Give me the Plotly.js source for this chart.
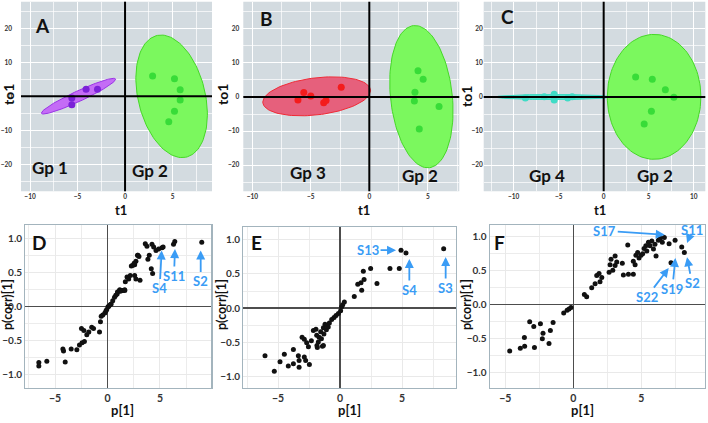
<!DOCTYPE html>
<html><head><meta charset="utf-8">
<script src="https://cdn.plot.ly/plotly-3.0.1.min.js"></script>
<style>html,body{margin:0;padding:0;background:#fff}#chart{width:708px;height:423px}</style>
</head><body><div id="chart"></div>
<script>
// ---------- Score plots (top row) ----------
const aGp1X = [-5.6, -5.6, -4.1, -2.9];
const aGp1Y = [-0.5, -2.5, 2.1, 2.1];
const aGp2X = [2.9, 5.2, 5.8, 5.8, 5.2, 4.6];
const aGp2Y = [6.0, 5.2, 1.9, -1.1, -4.4, -7.5];
const bGp3X = [-6.1, -5.6, -5.0, -3.9, -3.7, -2.4];
const bGp3Y = [-0.9, 1.3, 0.3, -1.7, -1.0, 2.9];
const bGp2X = [4.16, 4.6, 3.9, 3.85, 5.96, 4.27];
const bGp2Y = [7.7, 5.2, 1.4, -1.2, -2.8, -9.4];
const cGp4X = [-8.7, -6.6, -5.5, -5.5, -4.0, -3.5];
const cGp4Y = [-0.3, 0.1, 0.8, -0.9, -0.3, 0.1];
const cGp2X = [3.55, 5.4, 6.85, 7.8, 5.3, 4.5];
const cGp2Y = [5.9, 5.2, 2.1, -0.1, -4.2, -7.9];
// confidence ellipses: [cx, cy, ax, ay, bx, by]
const ellA1 = [-4.9, 0.05, 3.9, 5.05, -0.22, 1.4];
const ellA2 = [4.9, 0.0, 3.6, 0, -1.1, 18.0];
const ellB3 = [-4.5, 0.2, 4.6, 1.9, -0.18, 5.4];
const ellB2 = [4.45, 0.1, 2.65, 0, -0.55, 20.9];
const ellC4 = [-5.65, 0, 6.35, 0, 0, 0.75];
const ellC2 = [5.6, 0.05, 5.2, 0, 0, 18.35];

// ---------- S-plots (bottom row) ----------
const dX = [-6.54,-6.54,-5.78,-4.19,-4.25,-4.03,-3.46,-2.92,-2.67,-2.42,-2.2,-2.48,-2.25,-1.97,-1.78,-1.5,-1.33,-0.76,-0.67,-0.6,-0.45,-0.25,-0.15,-0.07,0.05,0.13,0.25,0.35,0.5,0.67,0.79,0.92,1.15,1.17,1.4,1.65,0.95,
  1.45,1.22,1.64,1.86,2.02,2.17,1.7,2.59,2.71,2.27,2.59,2.71,2.9,3.1,2.38,2.54,2.86,3.0,3.6,3.76,3.85,3.98,4.17,4.3,4.24,4.4,4.62,4.87,5.19,5.3,6.29,6.41,8.98];
const dY = [-0.88,-0.83,-0.81,-0.66,-0.63,-0.82,-0.63,-0.64,-0.57,-0.54,-0.52,-0.33,-0.36,-0.42,-0.38,-0.31,-0.33,-0.38,-0.23,-0.15,-0.13,-0.1,-0.07,-0.05,-0.01,0.0,0.02,0.03,0.08,0.13,0.16,0.18,0.23,0.24,0.23,0.23,0.21,
  0.23,0.22,0.24,0.43,0.40,0.45,0.36,0.45,0.40,0.59,0.61,0.66,0.75,0.38,0.6,0.63,0.75,0.73,0.92,0.88,0.69,0.75,0.55,0.48,0.91,0.87,0.82,0.84,0.86,0.87,0.91,0.95,0.94];
const eX = [-6.05,-5.3,-4.84,-4.49,-4.17,-3.76,-3.76,-3.36,-3.3,-3.3,-2.88,-2.77,-2.47,-3.06,-2.88,-2.69,-2.55,-2.31,-2.15,-1.94,-1.88,-1.83,-1.42,-1.69,-1.56,-1.34,-1.21,-1.02,-0.86,-0.67,-0.48,-0.32,-0.13,0.05,0.13,0.22,0.35,-1.75,-1.5,-1.3,-1.1,-0.95,-1.86,-1.34,
  1.15,1.43,1.69,1.75,1.88,1.94,2.47,2.98,4.03,4.78,4.92,5.32,8.36];
const eY = [-0.7,-0.93,-0.79,-0.68,-0.85,-0.61,-0.82,-0.7,-0.87,-0.77,-0.72,-0.77,-0.83,-0.43,-0.46,-0.51,-0.57,-0.48,-0.33,-0.31,-0.4,-0.58,-0.56,-0.43,-0.35,-0.29,-0.24,-0.26,-0.22,-0.17,-0.14,-0.11,-0.08,-0.04,0.02,0.05,0.09,-0.5,-0.45,-0.38,-0.32,-0.28,-0.55,-0.55,
  0.17,0.35,0.37,0.26,0.54,0.42,0.58,0.36,0.58,0.58,0.85,0.81,0.87];
const fX = [-4.68,-3.9,-3.58,-3.6,-3.21,-2.91,-2.86,-2.42,-2.23,-2.28,-1.79,-1.69,-1.49,-0.71,-0.46,-0.32,-0.17,
  0.81,0.98,1.35,1.6,1.72,1.89,1.96,2.09,2.63,2.7,2.77,2.9,3.07,3.07,3.19,3.6,3.68,4.0,4.05,4.41,4.41,4.54,4.6,4.73,4.83,4.98,5.1,5.2,5.33,5.4,5.52,5.64,5.77,6.0,6.08,5.89,6.25,6.39,6.54,6.69,7.04,7.18,7.48,7.97,8.16];
const fY = [-0.68,-0.64,-0.61,-0.48,-0.25,-0.32,-0.63,-0.28,-0.42,-0.5,-0.57,-0.38,-0.26,-0.12,-0.08,-0.06,-0.04,
  0.15,0.12,0.25,0.31,0.43,0.46,0.34,0.40,0.48,0.59,0.67,0.51,0.72,0.58,0.63,0.61,0.44,0.88,0.45,0.45,0.64,0.59,0.73,0.77,0.69,0.73,0.75,0.83,0.87,0.79,0.92,0.87,0.94,0.89,0.72,0.82,0.95,0.98,0.92,0.99,0.9,0.62,0.95,0.85,0.77];

// labelled samples: [panel, label, x, y, ax, ay]
const sLabels = [
  ['4','S4',5.16,0.82,-2,38], ['4','S11',6.43,0.84,-1,27], ['4','S2',8.88,0.82,0,31],
  ['5','S13',4.52,0.85,-28,0], ['5','S4',5.59,0.72,0,31], ['5','S3',8.52,0.75,0,31],
  ['6','S17',6.72,1.03,-60,-4], ['6','S11',8.36,0.91,5,-13], ['6','S2',8.36,0.70,5,26],
  ['6','S19',7.5,0.69,-3,31], ['6','S22',7.01,0.54,-22,29]
];

const FONT = 'Lato, "Open Sans", sans-serif';
const BLUE = '#3a9cf5';

function ellipse(p) {
  const xs = [], ys = [];
  for (let i = 0; i <= 120; i++) {
    const t = 2 * Math.PI * i / 120;
    xs.push(p[0] + p[2] * Math.cos(t) + p[4] * Math.sin(t));
    ys.push(p[1] + p[3] * Math.cos(t) + p[5] * Math.sin(t));
  }
  return {x: xs, y: ys};
}
function ax(s) { return s === '1' ? '' : s; }
function ellTrace(p, s, fill, line) {
  const e = ellipse(p);
  return {type:'scatter', mode:'lines', x:e.x, y:e.y, fill:'toself', fillcolor:fill,
    line:{color:line, width:1}, xaxis:'x'+ax(s), yaxis:'y'+ax(s), hoverinfo:'skip'};
}
function pts(x, y, s, color, size) {
  return {type:'scatter', mode:'markers', x:x, y:y, xaxis:'x'+ax(s), yaxis:'y'+ax(s),
    marker:{color:color, size:size, line:{width:0}}};
}
const GREENF = '#7bf85e', GREENL = '#45d826', GREENP = '#38dc38';
const traces = [
  ellTrace(ellA1, '1', '#c46cf6', '#9a34e6'), ellTrace(ellA2, '1', GREENF, GREENL),
  pts(aGp1X, aGp1Y, '1', '#7b22d8', 7), pts(aGp2X, aGp2Y, '1', GREENP, 7),
  ellTrace(ellB3, '2', '#e6607c', '#f02a36'), ellTrace(ellB2, '2', GREENF, GREENL),
  pts(bGp3X, bGp3Y, '2', '#f41c1c', 7), pts(bGp2X, bGp2Y, '2', GREENP, 7),
  ellTrace(ellC4, '3', '#4fe6cf', '#3ad9c2'), ellTrace(ellC2, '3', GREENF, GREENL),
  pts(cGp4X, cGp4Y, '3', '#3fdcc6', 7), pts(cGp2X, cGp2Y, '3', GREENP, 7),
  pts(dX, dY, '4', '#111', 5), pts(eX, eY, '5', '#111', 5), pts(fX, fY, '6', '#111', 5)
];

function topX(s, dom, rng) {
  return {anchor:'y'+ax(s), domain:dom, range:rng, dtick:5, tick0:0, showgrid:true, gridcolor:'#ffffff', gridwidth:1,
    minor:{dtick:2.5, tick0:0, showgrid:true, gridcolor:'#ffffff', gridwidth:0.7},
    zeroline:false, showline:false, ticks:'', fixedrange:true,
    tickfont:{family:FONT, size:6.5, weight:'bold', color:'#333'}};
}
function topY(s, dom, rng, stand) {
  return {anchor:'x'+ax(s), domain:dom, range:rng, dtick:10, tick0:0, showgrid:true, gridcolor:'#ffffff', gridwidth:1,
    minor:{dtick:5, tick0:0, showgrid:true, gridcolor:'#ffffff', gridwidth:0.7},
    zeroline:false, showline:false, ticks:'', fixedrange:true, ticklabelstandoff:stand,
    tickfont:{family:FONT, size:6.5, weight:'bold', color:'#333'}};
}
function botX(s, dom, rng) {
  return {anchor:'y'+s, domain:dom, range:rng, dtick:5, tick0:0, showgrid:true, gridcolor:'#e9e9e9', gridwidth:1,
    minor:{dtick:2.5, tick0:0, showgrid:true, gridcolor:'#ececec', gridwidth:1},
    zeroline:true, zerolinecolor:'#4d4d4d', zerolinewidth:1.2, showline:true, mirror:true,
    linecolor:'#a3b4bd', linewidth:1.2, ticks:'', fixedrange:true,
    tickfont:{family:FONT, size:10.5, weight:'bold', color:'#333'}};
}
function botY(s, dom, rng) {
  return {anchor:'x'+s, domain:dom, range:rng, dtick:0.5, tick0:0, tickformat:'.1f', showgrid:true, gridcolor:'#e9e9e9', gridwidth:1,
    minor:{dtick:0.25, tick0:0, showgrid:true, gridcolor:'#ececec', gridwidth:1},
    zeroline:true, zerolinecolor:'#4d4d4d', zerolinewidth:1.2, showline:true, mirror:true,
    linecolor:'#a3b4bd', linewidth:1.2, ticks:'', fixedrange:true,
    tickfont:{family:FONT, size:10, weight:'bold', color:'#333'}};
}
const W = 708, H = 423;
const px = v => v / W, py = v => 1 - v / H;
const topDomY = [py(191.3), py(1.7)];
const layout = {
  width:W, height:H, margin:{l:0,r:0,t:0,b:0}, showlegend:false,
  paper_bgcolor:'#ffffff', plot_bgcolor:'#ffffff',
  xaxis: topX('1', [px(21), px(212)], [-10.95, 9.15]),
  yaxis: topY('1', topDomY, [-27.9, 27.8], 8),
  xaxis2: topX('2', [px(243.3), px(459.3)], [-10.77, 7.69]),
  yaxis2: topY('2', topDomY, [-27.7, 28.0], 3),
  xaxis3: topX('3', [px(483.7), px(705.3)], [-13.33, 11.29]),
  yaxis3: topY('3', topDomY, [-27.7, 28.0], 0),
  xaxis4: botX('4', [px(25.3), px(211.3)], [-7.83, 9.89]),
  yaxis4: botY('4', [py(387.7), py(225.3)], [-1.2, 1.19]),
  xaxis5: botX('5', [px(243.3), px(455.7)], [-7.8, 9.33]),
  yaxis5: botY('5', [py(387.7), py(227)], [-1.17, 1.19]),
  xaxis6: botX('6', [px(489.7), px(705)], [-6.15, 9.68]),
  yaxis6: botY('6', [py(387.7), py(225.3)], [-1.22, 1.17]),
  shapes: [], annotations: []
};
['', '2', '3'].forEach(s => {
  layout.shapes.push({type:'rect', layer:'below', xref:'x'+s+' domain', yref:'y'+s+' domain',
    x0:0, x1:1, y0:0, y1:1, fillcolor:'#d3dbe0', line:{width:0}});
  layout.shapes.push({type:'line', layer:'above', xref:'x'+s+' domain', yref:'y'+s,
    x0:0, x1:1, y0:0, y1:0, line:{color:'#000', width:2}});
  layout.shapes.push({type:'line', layer:'above', xref:'x'+s, yref:'y'+s+' domain',
    x0:0, x1:0, y0:0, y1:1, line:{color:'#000', width:2}});
});
function txt(text, x, y, size, angle) {
  layout.annotations.push({text:text, xref:'paper', yref:'paper', x:px(x), y:py(y),
    xanchor:'center', yanchor:'middle', showarrow:false, textangle:angle || 0,
    font:{family:FONT, size:size, weight:'bold', color:'#111'}});
}
txt('A', 42.3, 26, 19); txt('B', 266.7, 18.3, 19); txt('C', 507, 16.7, 19);
txt('D', 39.3, 242.7, 19); txt('E', 256.7, 242.7, 19); txt('F', 499.3, 242.7, 19);
txt('Gp 1', 50, 167.3, 17); txt('Gp 2', 150, 170.7, 17);
txt('Gp 3', 307.7, 172.7, 17); txt('Gp 2', 420, 176, 17);
txt('Gp 4', 547, 176, 17); txt('Gp 2', 655.3, 176, 17);
txt('t1', 121, 210, 13); txt('t1', 363.7, 210, 13); txt('t1', 599.7, 210, 13);
txt('to1', 8, 95, 14, -90); txt('to1', 222, 95, 14, -90); txt('to1', 466, 97, 14, -90);
txt('p(corr)[1]', 7, 305, 12.5, -90); txt('p(corr)[1]', 221, 305, 12.5, -90); txt('p(corr)[1]', 466, 305, 12.5, -90);
txt('p[1]', 122, 410, 13); txt('p[1]', 349.3, 410, 13); txt('p[1]', 582, 410, 13);
sLabels.forEach(l => {
  layout.annotations.push({text:l[1], xref:'x'+l[0], yref:'y'+l[0], x:l[2], y:l[3], ax:l[4], ay:l[5],
    showarrow:true, arrowhead:2, arrowsize:1, arrowwidth:1.8, arrowcolor:BLUE, standoff:0,
    font:{family:FONT, size:13, weight:'bold', color:BLUE}});
});
Plotly.newPlot('chart', traces, layout, {displayModeBar:false, staticPlot:true});
</script></body></html>
